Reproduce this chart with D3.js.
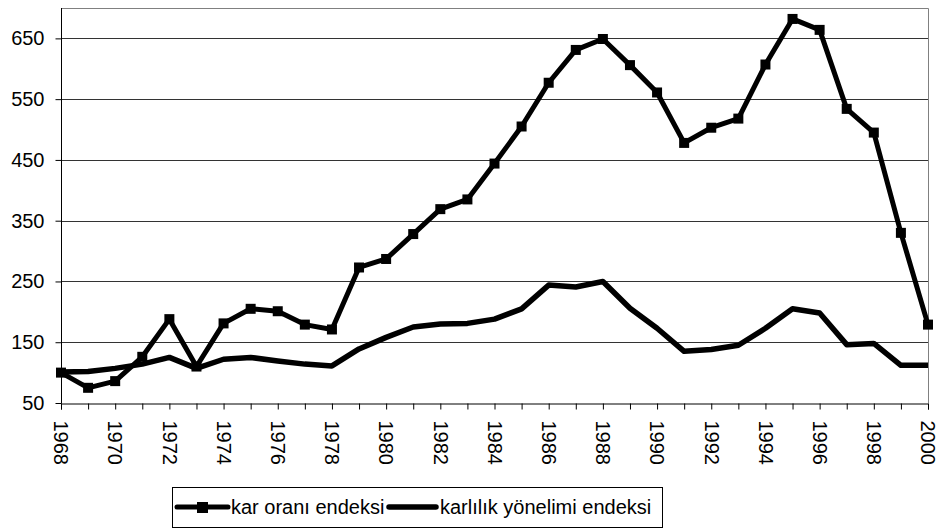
<!DOCTYPE html>
<html>
<head>
<meta charset="utf-8">
<script src="https://cdn.jsdelivr.net/npm/d3@7"></script>
<style>
  body { margin: 0; background: #fff; }
  text { font-family: "Liberation Sans", Arial, sans-serif; font-size: 20px; fill: #000; }
</style>
</head>
<body>
<div id="viz"></div>
<script>
// yillar 1968-2000
var years = d3.range(1968, 2001);
var karOrani = [100, 75, 86, 126, 188, 110, 181, 205, 201, 179, 171, 273, 287, 328, 369, 385, 444,
                505, 577, 631, 649, 606, 561, 478, 503, 518, 607, 682, 664, 534, 495, 330, 179];
var karlilik = [101, 102, 107, 114, 125, 107, 122, 125, 119, 114, 111, 139, 158, 175, 180, 181, 188,
                205, 244, 241, 250, 206, 173, 135, 138, 145, 173, 205, 198, 146, 148, 112, 112];
var yTicks = [50, 150, 250, 350, 450, 550, 650];
var seriesNames = ["kar oranı endeksi", "karlılık yönelimi endeksi"];

var W = 938, H = 532;
var pLeft = 61, pRight = 928, pTop = 8, pBottom = 403;

var svg = d3.select("#viz").append("svg")
    .attr("width", W)
    .attr("height", H);

var x = d3.scaleLinear().domain([1968, 2000]).range([pLeft, pRight]);
var y = d3.scaleLinear().domain([50, 700]).range([pBottom, pTop]);

// grid
svg.append("g").selectAll("line")
    .data(yTicks.slice(1))
    .enter().append("line")
    .attr("x1", pLeft).attr("x2", pRight)
    .attr("y1", function(d) { return Math.round(y(d)) + 0.5; })
    .attr("y2", function(d) { return Math.round(y(d)) + 0.5; })
    .style("stroke", "#333")
    .style("stroke-width", 1);

// plot border top/right
svg.append("path")
    .attr("d", "M" + pLeft + "," + (pTop + 0.5) + "H" + (pRight + 0.5) + "V" + pBottom)
    .style("fill", "none")
    .style("stroke", "#808080")
    .style("stroke-width", 1);

// x axis
var xAxis = d3.axisBottom(x)
    .tickValues(years)
    .tickSize(6)
    .tickFormat(function(d) { return d % 2 === 0 ? d : ""; });
var gx = svg.append("g")
    .attr("transform", "translate(0," + (pBottom + 0.5) + ")")
    .call(xAxis);
gx.select(".domain").style("stroke", "#000");
gx.selectAll(".tick line").style("stroke", "#000");
gx.selectAll(".tick text")
    .style("font-family", "Liberation Sans, Arial, sans-serif")
    .style("font-size", "20px")
    .attr("transform", "rotate(90)")
    .attr("x", 17)
    .attr("y", 0)
    .attr("dy", "0.36em")
    .style("text-anchor", "start");

// y axis
var yAxis = d3.axisLeft(y)
    .tickValues(yTicks)
    .tickSize(6)
    .tickPadding(11);
var gy = svg.append("g")
    .attr("transform", "translate(" + (pLeft + 0.5) + ",0)")
    .call(yAxis);
gy.select(".domain").attr("d", "M0," + pTop + "V" + (pBottom + 0.5)).style("stroke", "#000");
gy.selectAll(".tick line").style("stroke", "#000");
gy.selectAll(".tick text")
    .style("font-family", "Liberation Sans, Arial, sans-serif")
    .style("font-size", "20px");

var line = d3.line()
    .x(function(d, i) { return x(years[i]); })
    .y(function(d) { return y(d); });

svg.append("path")
    .datum(karlilik)
    .attr("d", line)
    .style("fill", "none")
    .style("stroke", "#000")
    .style("stroke-width", 5.5)
    .style("stroke-linejoin", "round");

svg.append("path")
    .datum(karOrani)
    .attr("d", line)
    .style("fill", "none")
    .style("stroke", "#000")
    .style("stroke-width", 5)
    .style("stroke-linejoin", "round");

svg.append("g").selectAll("rect")
    .data(karOrani)
    .enter().append("rect")
    .attr("x", function(d, i) { return x(years[i]) - 5; })
    .attr("y", function(d) { return y(d) - 5; })
    .attr("width", 10)
    .attr("height", 10)
    .style("fill", "#000");

// legend
var lg = svg.append("g");
lg.append("rect")
    .attr("x", 172.5).attr("y", 487.5)
    .attr("width", 490).attr("height", 40)
    .style("fill", "#fff")
    .style("stroke", "#000")
    .style("stroke-width", 1);
lg.append("line")
    .attr("x1", 177).attr("x2", 228).attr("y1", 507).attr("y2", 507)
    .style("stroke", "#000").style("stroke-width", 5).style("stroke-linecap", "round");
lg.append("rect")
    .attr("x", 197).attr("y", 502).attr("width", 11).attr("height", 11)
    .style("fill", "#000");
lg.append("text").attr("x", 231).attr("y", 507).attr("dy", "0.36em").text(seriesNames[0]);
lg.append("line")
    .attr("x1", 389).attr("x2", 436).attr("y1", 507).attr("y2", 507)
    .style("stroke", "#000").style("stroke-width", 5.5).style("stroke-linecap", "round");
lg.append("text").attr("x", 440).attr("y", 507).attr("dy", "0.36em").text(seriesNames[1]);
</script>
</body>
</html>
